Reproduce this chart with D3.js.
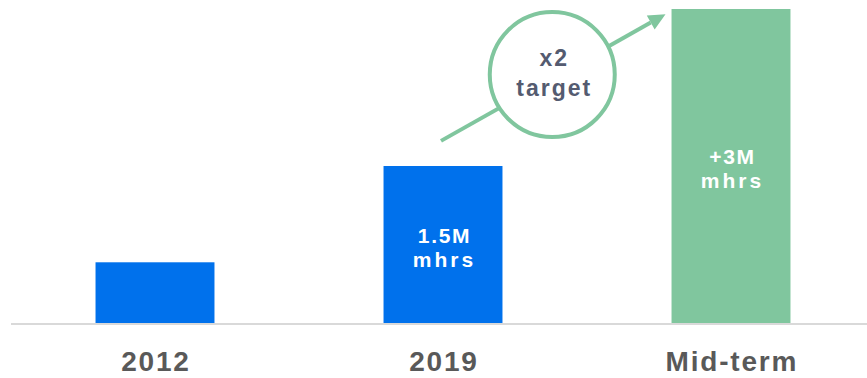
<!DOCTYPE html>
<html>
<head>
<meta charset="utf-8">
<script src="https://cdn.jsdelivr.net/npm/d3@7"></script>
<style>
  html, body { margin: 0; padding: 0; background: #fff; }
  svg { display: block; }
</style>
</head>
<body>
<svg id="chart" width="867" height="378"></svg>
<script>
// ---- data ----
const categories = ["2012", "2019", "Mid-term"];
const values = [0.58, 1.5, 3.0];           // million man-hours
const barColors = ["#0071EC", "#0071EC", "#80C69E"];
const innerLine1 = ["", "1.5M", "+3M"];
const innerLine2 = ["", "mhrs", "mhrs"];
const badgeLines = ["x2", "target"];
const arrowFrom = { cat: "2019", value: 1.74 };
const arrowTo = { cat: "Mid-term", value: 2.95 };

// ---- layout ----
const W = 867, H = 378;
const svg = d3.select("#chart");
const baseY = 323;

const x = d3.scaleBand()
  .domain(categories)
  .range([11, 875])
  .paddingInner(0.587)
  .paddingOuter(0.2935);

const y = d3.scaleLinear().domain([0, 3]).range([baseY, 9]);

// bars
svg.append("g").selectAll("rect")
  .data(categories)
  .join("rect")
  .attr("x", d => x(d))
  .attr("y", (d, i) => y(values[i]))
  .attr("width", x.bandwidth())
  .attr("height", (d, i) => baseY - y(values[i]))
  .attr("fill", (d, i) => barColors[i]);

// baseline
svg.append("line")
  .attr("x1", 11).attr("x2", W)
  .attr("y1", baseY + 1).attr("y2", baseY + 1)
  .attr("stroke", "#d9d9d9").attr("stroke-width", 2);

// category labels (axis)
const xAxis = d3.axisBottom(x).tickSize(0).tickPadding(0);
const gx = svg.append("g").attr("transform", `translate(0,${baseY})`).call(xAxis);
gx.select(".domain").remove();
gx.selectAll("text")
  .attr("dy", null)
  .attr("y", 48)
  .attr("dx", 0.9)
  .attr("font-family", "Liberation Sans, Arial, sans-serif")
  .attr("font-weight", "bold")
  .attr("font-size", 28)
  .attr("letter-spacing", 1.8)
  .attr("fill", "#595959");

// inner labels
const inner = svg.append("g");
categories.forEach((c, i) => {
  if (!innerLine1[i]) return;
  const cx = x(c) + x.bandwidth() / 2;
  const cy = (y(values[i]) + baseY) / 2;
  const t = inner.append("text")
    .attr("text-anchor", "middle")
    .attr("font-family", "Liberation Sans, Arial, sans-serif")
    .attr("font-weight", "bold")
    .attr("font-size", 21)
    .attr("fill", "#ffffff");
  t.append("tspan").attr("x", cx + 1.5).attr("y", cy - 2)
    .attr("letter-spacing", 1.7).text(innerLine1[i]);
  t.append("tspan").attr("x", cx + 1.5).attr("y", cy + 22)
    .attr("letter-spacing", 3).text(innerLine2[i]);
});

// arrow
const green = "#80C69E";
const ax1 = x(arrowFrom.cat) + x.bandwidth() / 2 - 2, ay1 = y(arrowFrom.value);
const ax2 = x(arrowTo.cat) - 6, ay2 = y(arrowTo.value);
const ang = Math.atan2(ay2 - ay1, ax2 - ax1);
const headLen = 17, headHalf = 8;
const bx = ax2 - headLen * Math.cos(ang), by = ay2 - headLen * Math.sin(ang);
svg.append("line")
  .attr("x1", ax1).attr("y1", ay1)
  .attr("x2", bx).attr("y2", by)
  .attr("stroke", green).attr("stroke-width", 4);
svg.append("path")
  .attr("d", d3.line()([
    [ax2, ay2],
    [bx + headHalf * Math.sin(ang), by - headHalf * Math.cos(ang)],
    [bx - headHalf * Math.sin(ang), by + headHalf * Math.cos(ang)]
  ]) + "Z")
  .attr("fill", green);

// badge circle
const ccx = (ax1 + ax2) / 2 - 1, ccy = (ay1 + ay2) / 2 - 3;
svg.append("circle")
  .attr("cx", ccx).attr("cy", ccy).attr("r", 62.5)
  .attr("fill", "#ffffff")
  .attr("stroke", green).attr("stroke-width", 4);
const bt = svg.append("text")
  .attr("text-anchor", "middle")
  .attr("font-family", "Liberation Sans, Arial, sans-serif")
  .attr("font-weight", "bold")
  .attr("font-size", 23)
  .attr("letter-spacing", 2)
  .attr("fill", "#545B70");
bt.append("tspan").attr("x", ccx + 2).attr("y", ccy - 9).text(badgeLines[0]);
bt.append("tspan").attr("x", ccx + 2).attr("y", ccy + 21).text(badgeLines[1]);
</script>
</body>
</html>
